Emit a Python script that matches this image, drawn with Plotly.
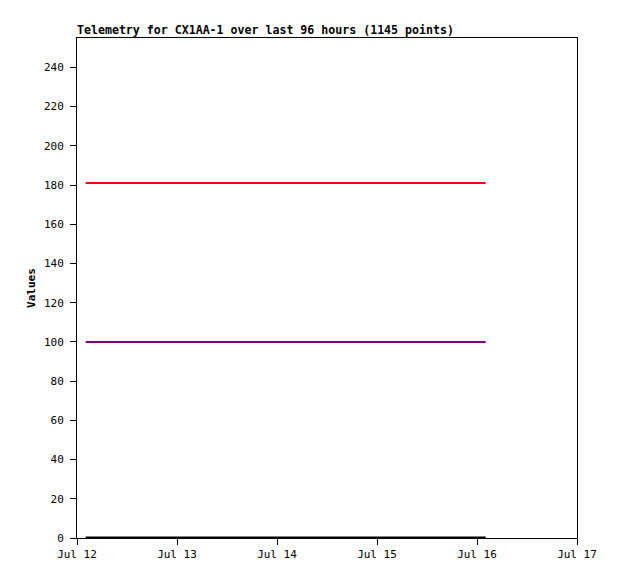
import plotly.graph_objects as go

# Data (constant telemetry values over the 96-hour window)
times = ["2024-07-12 02:05", "2024-07-16 02:05"]
series_names = ["Channel A", "Channel B", "Channel C"]
series_values = {
    "Channel A": [181, 181],
    "Channel B": [100, 100],
    "Channel C": [0.3, 0.3],
}
series_colors = {"Channel A": "#ff0000", "Channel B": "#800080", "Channel C": "#000000"}
x_ticks = ["2024-07-12", "2024-07-13", "2024-07-14", "2024-07-15", "2024-07-16", "2024-07-17"]
x_tick_labels = ["Jul 12", "Jul 13", "Jul 14", "Jul 15", "Jul 16", "Jul 17"]
y_ticks = list(range(0, 241, 20))

fig = go.Figure()
for name in series_names:
    fig.add_trace(go.Scatter(
        x=times, y=series_values[name], mode="lines", name=name,
        line=dict(color=series_colors[name], width=2),
    ))

font_family = "DejaVu Sans Mono, Liberation Mono, monospace"
W, H = 610, 571
fig.update_layout(
    width=W, height=H,
    margin=dict(l=69, r=41, t=30, b=41),
    paper_bgcolor="white", plot_bgcolor="white",
    showlegend=False,
    font=dict(family=font_family, size=11, color="black"),
    title=dict(
        text="<b>Telemetry for CX1AA-1 over last 96 hours (1145 points)</b>",
        x=69 / W, xanchor="left", y=1 - 22 / H, yanchor="middle",
        font=dict(family=font_family, size=11.6, color="black"),
    ),
    xaxis=dict(
        range=["2024-07-12", "2024-07-17"],
        tickvals=x_ticks, ticktext=x_tick_labels,
        showgrid=False, zeroline=False,
        showline=True, linecolor="black", linewidth=1, mirror=True,
        ticks="outside", ticklen=6, tickcolor="black", tickwidth=1,
        tickfont=dict(family=font_family, size=11, color="black"),
    ),
    yaxis=dict(
        range=[0, 255],
        tickvals=y_ticks,
        showgrid=False, zeroline=False,
        showline=True, linecolor="black", linewidth=1, mirror=True,
        ticks="outside", ticklen=6, tickcolor="black", tickwidth=1,
        ticklabelstandoff=4,
        tickfont=dict(family=font_family, size=11, color="black"),
        title=dict(text="<b>Values</b>", font=dict(family=font_family, size=11, color="black"), standoff=6),
    ),
)

fig.write_html("out.html")
